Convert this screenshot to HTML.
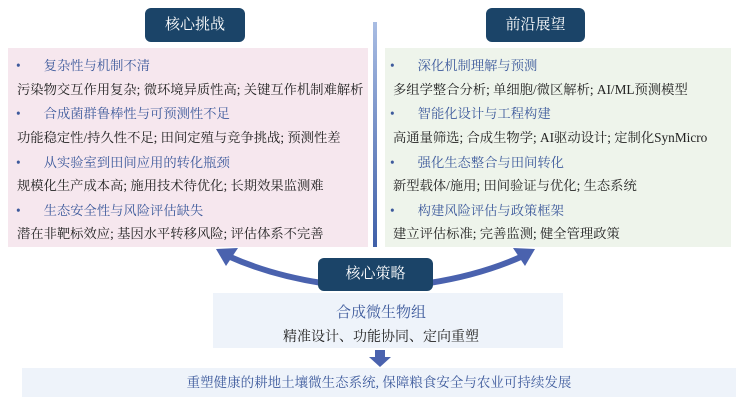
<!DOCTYPE html>
<html><head><meta charset="utf-8"><style>
body{margin:0;width:743px;height:408px;background:#fff;position:relative;overflow:hidden;font-family:"Liberation Serif","Noto Serif CJK SC",serif;}
.abs{position:absolute;}
.hdr{background:#1b4468;color:#fff;border-radius:6px;font-size:15px;text-align:center;line-height:34px;}
.b{position:absolute;left:8px;font-size:13.3px;color:#3d5a9c;white-space:nowrap;line-height:18px;}
.b span{display:inline-block;width:23px;font-size:11px;}
.t{position:absolute;left:8px;font-size:13.3px;color:#222;white-space:nowrap;line-height:18px;}
</style></head><body>
<div class="abs hdr" style="left:145px;top:8px;width:100px;height:34px;">核心挑战</div>
<div class="abs hdr" style="left:486px;top:8px;width:99px;height:34px;">前沿展望</div>
<div class="abs" style="left:373px;top:22px;width:4px;height:225px;background:linear-gradient(#a9bde3,#3f5fa8);"></div>
<div class="abs" style="left:8px;top:48px;width:360px;height:199px;background:#f6e7ee;">
<div class="b" style="top:9px">•<span></span>复杂性与机制不清</div>
<div class="t" style="top:33px;left:9px">污染物交互作用复杂; 微环境异质性高; 关键互作机制难解析</div>
<div class="b" style="top:57px">•<span></span>合成菌群鲁棒性与可预测性不足</div>
<div class="t" style="top:81px;left:9px">功能稳定性/持久性不足; 田间定殖与竞争挑战; 预测性差</div>
<div class="b" style="top:106px">•<span></span>从实验室到田间应用的转化瓶颈</div>
<div class="t" style="top:129px;left:9px">规模化生产成本高; 施用技术待优化; 长期效果监测难</div>
<div class="b" style="top:154px">•<span></span>生态安全性与风险评估缺失</div>
<div class="t" style="top:177px;left:9px">潜在非靶标效应; 基因水平转移风险; 评估体系不完善</div>
</div>
<div class="abs" style="left:385px;top:48px;width:346px;height:199px;background:#eef4eb;">
<div class="b" style="top:9px;left:5px">•<span></span>深化机制理解与预测</div>
<div class="t" style="top:33px;left:8px">多组学整合分析; 单细胞/微区解析; AI/ML预测模型</div>
<div class="b" style="top:57px;left:5px">•<span></span>智能化设计与工程构建</div>
<div class="t" style="top:81px;left:8px">高通量筛选; 合成生物学; AI驱动设计; 定制化SynMicro</div>
<div class="b" style="top:106px;left:5px">•<span></span>强化生态整合与田间转化</div>
<div class="t" style="top:129px;left:8px">新型载体/施用; 田间验证与优化; 生态系统</div>
<div class="b" style="top:154px;left:5px">•<span></span>构建风险评估与政策框架</div>
<div class="t" style="top:177px;left:8px">建立评估标准; 完善监测; 健全管理政策</div>
</div>
<svg class="abs" style="left:0;top:0" width="743" height="408">
<path d="M322 283 Q270 275 228 256" stroke="#4a62ae" stroke-width="6" fill="none"/>
<polygon points="216,249 238,248 226,266" fill="#4a62ae"/>
<path d="M429 283 Q481 275 523 256" stroke="#4a62ae" stroke-width="6" fill="none"/>
<polygon points="535,249 513,248 525,266" fill="#4a62ae"/>
<polygon points="375,350 385,350 385,357 391,357 380,367 369,357 375,357" fill="#4a62ae"/>
</svg>
<div class="abs" style="left:213px;top:293px;width:350px;height:55px;background:#eef3fa;"></div>
<div class="abs" style="left:213px;top:301px;width:336px;text-align:center;font-size:15px;color:#3d5a9c;">合成微生物组</div>
<div class="abs" style="left:213px;top:326px;width:336px;text-align:center;font-size:14px;color:#222;">精准设计、功能协同、定向重塑</div>
<div class="abs hdr" style="left:318px;top:258px;width:115px;height:33px;line-height:33px;">核心策略</div>
<div class="abs" style="left:22px;top:368px;width:714px;height:29px;background:#eef3fa;text-align:center;line-height:29px;font-size:13.5px;color:#3d5a9c;">重塑健康的耕地土壤微生态系统, 保障粮食安全与农业可持续发展</div>
</body></html>
